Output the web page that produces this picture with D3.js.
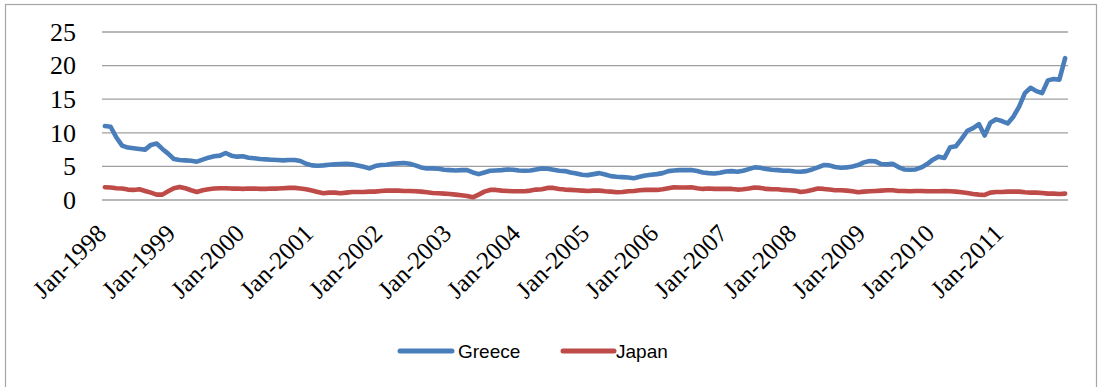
<!DOCTYPE html>
<html>
<head>
<meta charset="utf-8">
<script src="https://cdn.jsdelivr.net/npm/d3@7"></script>
<style>
  html, body { margin: 0; padding: 0; background: #fff; }
  svg { display: block; }
</style>
</head>
<body>
<svg id="chart" width="1101" height="387"></svg>
<script>
// Ten-year government bond yields (%), monthly, Jan 1998 – Dec 2011
const years = d3.range(1998, 2012);
const monthNames = ["Jan","Feb","Mar","Apr","May","Jun","Jul","Aug","Sep","Oct","Nov","Dec"];
const months = years.flatMap(y => monthNames.map(m => `${m}-${y}`));

const greece = [
  11.0, 10.9, 9.3, 8.1, 7.8, 7.7, 7.6, 7.5, 8.2, 8.4, 7.6, 6.9,
  6.1, 5.95, 5.9, 5.85, 5.7, 6.0, 6.3, 6.5, 6.6, 7.0, 6.6, 6.45,
  6.5, 6.3, 6.2, 6.1, 6.05, 6.0, 5.95, 5.9, 5.95, 5.95, 5.8, 5.4,
  5.15, 5.1, 5.15, 5.25, 5.3, 5.35, 5.4, 5.3, 5.15, 4.95, 4.7, 5.05,
  5.2, 5.25, 5.4, 5.45, 5.5, 5.4, 5.15, 4.85, 4.7, 4.7, 4.65, 4.5,
  4.45, 4.4, 4.45, 4.45, 4.1, 3.85, 4.1, 4.35, 4.4, 4.45, 4.55, 4.5,
  4.4, 4.35, 4.4, 4.55, 4.7, 4.65, 4.5, 4.35, 4.3, 4.1, 3.95, 3.75,
  3.7, 3.85, 4.0, 3.8, 3.55, 3.45, 3.4, 3.35, 3.25, 3.45, 3.65, 3.75,
  3.85, 4.0, 4.3, 4.4, 4.45, 4.45, 4.45, 4.3, 4.1, 4.0, 3.95, 4.05,
  4.25, 4.3, 4.2, 4.35, 4.6, 4.85, 4.8, 4.6, 4.5, 4.45, 4.35, 4.35,
  4.25, 4.2, 4.3, 4.55, 4.85, 5.2, 5.15, 4.9, 4.8, 4.85, 5.0, 5.2,
  5.6, 5.8, 5.75, 5.35, 5.3, 5.4, 4.9, 4.55, 4.5, 4.55, 4.85, 5.35,
  6.0, 6.45, 6.25, 7.85, 8.0, 9.1, 10.3, 10.7, 11.3, 9.6, 11.5, 12.0,
  11.75, 11.4, 12.4, 13.9, 15.9, 16.7, 16.2, 15.9, 17.8, 18.0, 17.9, 21.1
];

const japan = [
  1.9, 1.85, 1.75, 1.7, 1.55, 1.5, 1.6, 1.35, 1.1, 0.8, 0.8, 1.3,
  1.75, 1.95, 1.75, 1.45, 1.2, 1.45, 1.6, 1.7, 1.75, 1.75, 1.7, 1.7,
  1.65, 1.7, 1.7, 1.65, 1.65, 1.7, 1.7, 1.75, 1.8, 1.8, 1.7, 1.6,
  1.4, 1.2, 1.0, 1.1, 1.1, 1.0, 1.1, 1.2, 1.2, 1.2, 1.25, 1.25,
  1.35, 1.4, 1.4, 1.4, 1.35, 1.35, 1.3, 1.25, 1.15, 1.05, 1.0, 0.95,
  0.9, 0.8, 0.7, 0.6, 0.4, 0.8, 1.25, 1.5, 1.5, 1.4, 1.35, 1.3,
  1.3, 1.3, 1.4, 1.55, 1.6, 1.8, 1.8, 1.65, 1.55, 1.5, 1.45, 1.4,
  1.35, 1.4, 1.4, 1.3, 1.25, 1.15, 1.2, 1.3, 1.35, 1.45, 1.5, 1.5,
  1.5, 1.6, 1.75, 1.9, 1.85, 1.85, 1.9, 1.75, 1.65, 1.7, 1.65, 1.65,
  1.65, 1.65, 1.55, 1.6, 1.7, 1.85, 1.8, 1.65, 1.6, 1.6, 1.5, 1.45,
  1.4, 1.2, 1.3, 1.5, 1.7, 1.65, 1.55, 1.45, 1.45, 1.4, 1.3, 1.15,
  1.25, 1.3, 1.35, 1.4, 1.45, 1.45, 1.35, 1.35, 1.3, 1.35, 1.35, 1.3,
  1.3, 1.3, 1.35, 1.3, 1.25, 1.15, 1.05, 0.9, 0.8, 0.75, 1.1, 1.2,
  1.2, 1.25, 1.25, 1.25, 1.15, 1.1, 1.1, 1.05, 0.95, 0.95, 0.9, 0.95
];

const yTicks = [0, 5, 10, 15, 20, 25];
const xTickLabels = years.map(y => `Jan-${y}`);

const seriesNames = ["Greece", "Japan"];
const seriesColors = ["#4A7EBB", "#BE4B48"];
const seriesValues = [greece, japan];

const svg = d3.select("#chart");

// outer chart-area frame
svg.append("rect")
  .attr("x", 5.5).attr("y", 4.5)
  .attr("width", 1091).attr("height", 400)
  .attr("fill", "none")
  .attr("stroke", "#a6a6a6")
  .attr("stroke-width", 1.2);

const plot = { left: 102, right: 1068, top: 32, bottom: 200 };

const x = d3.scaleBand()
  .domain(months)
  .range([plot.left, plot.right]);

const y = d3.scaleLinear()
  .domain([0, 25])
  .range([plot.bottom, plot.top]);

const cx = m => x(m) + x.bandwidth() / 2;

// horizontal gridlines
svg.append("g")
  .selectAll("line")
  .data(yTicks)
  .join("line")
  .attr("x1", plot.left).attr("x2", plot.right)
  .attr("y1", d => y(d)).attr("y2", d => y(d))
  .attr("stroke", "#a0a0a0")
  .attr("stroke-width", 1.3);

// y axis labels
svg.append("g")
  .selectAll("text")
  .data(yTicks)
  .join("text")
  .attr("x", 76)
  .attr("y", d => y(d))
  .attr("dy", "0.34em")
  .attr("text-anchor", "end")
  .attr("font-family", "'Liberation Serif', 'Times New Roman', serif")
  .attr("font-size", 26)
  .attr("fill", "#000")
  .text(d => d);

// rotated category labels, one per year
svg.append("g")
  .selectAll("text")
  .data(xTickLabels)
  .join("text")
  .attr("transform", d => `translate(${cx(d) + 3},${235}) rotate(-45)`)
  .attr("text-anchor", "end")
  .attr("font-family", "'Liberation Serif', 'Times New Roman', serif")
  .attr("font-size", 25)
  .attr("fill", "#000")
  .text(d => d);

// series lines
const line = d3.line()
  .x((d, i) => cx(months[i]))
  .y(d => y(d))
  .curve(d3.curveLinear);

svg.append("g")
  .selectAll("path")
  .data(seriesValues)
  .join("path")
  .attr("d", d => line(d))
  .attr("fill", "none")
  .attr("stroke", (d, i) => seriesColors[i])
  .attr("stroke-width", 4.6)
  .attr("stroke-linejoin", "round")
  .attr("stroke-linecap", "round");

// legend
const legendItems = [
  { name: seriesNames[0], color: seriesColors[0], x0: 400, x1: 452, tx: 458 },
  { name: seriesNames[1], color: seriesColors[1], x0: 563, x1: 614, tx: 616 }
];
const legend = svg.append("g");
legend.selectAll("line")
  .data(legendItems)
  .join("line")
  .attr("x1", d => d.x0).attr("x2", d => d.x1)
  .attr("y1", 351).attr("y2", 351)
  .attr("stroke", d => d.color)
  .attr("stroke-width", 5)
  .attr("stroke-linecap", "round");
legend.selectAll("text")
  .data(legendItems)
  .join("text")
  .attr("x", d => d.tx)
  .attr("y", 358)
  .attr("font-family", "'Liberation Sans', Arial, sans-serif")
  .attr("font-size", 19)
  .attr("fill", "#000")
  .text(d => d.name);
</script>
</body>
</html>
